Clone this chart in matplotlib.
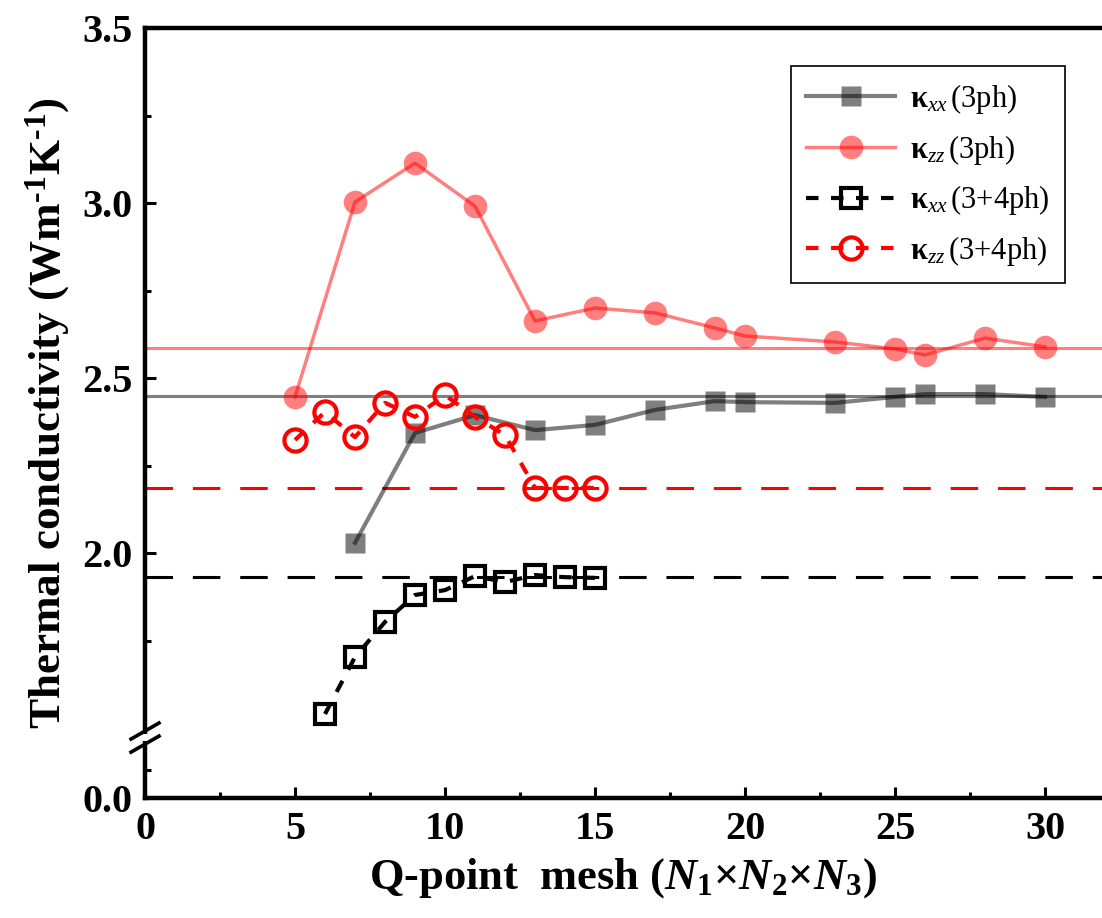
import matplotlib
matplotlib.use('Agg')
import matplotlib.pyplot as plt
import numpy as np

plt.rcParams['font.family'] = ['Liberation Serif', 'DejaVu Serif']
plt.rcParams['mathtext.fontset'] = 'custom'
plt.rcParams['mathtext.rm'] = 'Liberation Serif'
plt.rcParams['mathtext.it'] = 'Liberation Serif:italic'
plt.rcParams['mathtext.bf'] = 'Liberation Serif:bold'
plt.rcParams['mathtext.bfit'] = 'Liberation Serif:bold:italic'

# kappa_zz, 3ph
x_zz3 = [5, 7, 9, 11, 13, 15, 17, 19, 20, 23, 25, 26, 28, 30]
k_zz3 = [2.446, 3.003, 3.114, 2.991, 2.663, 2.70, 2.686, 2.643, 2.62, 2.603, 2.583, 2.566, 2.614, 2.589]
# kappa_xx, 3ph
x_xx3 = [7, 9, 11, 13, 15, 17, 19, 20, 23, 25, 26, 28, 30]
k_xx3 = [2.029, 2.343, 2.394, 2.351, 2.366, 2.409, 2.434, 2.431, 2.429, 2.446, 2.454, 2.454, 2.446]
# kappa_xx, 3+4ph
x_xx34 = [6, 7, 8, 9, 10, 11, 12, 13, 14, 15]
k_xx34 = [1.54, 1.703, 1.803, 1.88, 1.894, 1.934, 1.917, 1.937, 1.931, 1.929]
# kappa_zz, 3+4ph
x_zz34 = [5, 6, 7, 8, 9, 10, 11, 12, 13, 14, 15]
k_zz34 = [2.323, 2.403, 2.331, 2.429, 2.389, 2.451, 2.389, 2.337, 2.186, 2.186, 2.186]

# converged values (horizontal guide lines)
conv_zz3 = 2.586
conv_xx3 = 2.449
conv_zz34 = 2.186
conv_xx34 = 1.931

yticks = [0.0, 2.0, 2.5, 3.0, 3.5]
yminor = [0.25, 1.75, 2.25, 2.75, 3.25]

# broken y axis: 0-0.5 squeezed, 0.5-1.47 removed
brk_in = [0.0, 0.5, 1.47, 3.6]
brk_out = [0.0, 0.16, 0.17, 2.30]


def fwd(y):
    return np.interp(y, brk_in, brk_out)


def inv(y):
    return np.interp(y, brk_out, brk_in)


fig = plt.figure(figsize=(11.02, 9.18), dpi=100)
ax = fig.add_axes([0.1316, 0.1307, 0.8684, 0.8388])
ax.set_yscale('function', functions=(fwd, inv))

ax.axhline(conv_zz3, color='red', alpha=0.5, lw=2.2)
ax.axhline(conv_xx3, color='black', alpha=0.5, lw=2.2)
ax.axhline(conv_zz34, color='red', lw=2.2, linestyle=(0, (9, 6.5)))
ax.axhline(conv_xx34, color='black', lw=2.2, linestyle=(0, (9, 6.5)))

ax.plot(x_xx3, k_xx3, color='black', alpha=0.5, lw=3, marker='s', ms=15,
        mec='none', label=r'$\mathbf{\kappa}_{\mathit{xx}}\,$(3ph)')
ax.plot(x_zz3, k_zz3, color='red', alpha=0.5, lw=2.5, marker='o', ms=17,
        mec='none', label=r'$\mathbf{\kappa}_{\mathit{zz}}\,$(3ph)')
ax.plot(x_xx34, k_xx34, color='black', lw=3, linestyle=(0, (3, 3)), marker='s',
        ms=14, mfc='none', mew=3, label=r'$\mathbf{\kappa}_{\mathit{xx}}\,$(3+4ph)')
ax.plot(x_zz34, k_zz34, color='red', lw=3, linestyle=(0, (3, 3)), marker='o',
        ms=16, mfc='none', mew=3, label=r'$\mathbf{\kappa}_{\mathit{zz}}\,$(3+4ph)')

ax.set_xlim(0, 31.9)
ax.set_ylim(0, 3.5)
ax.set_xticks(np.arange(0, 31, 5))
ax.set_xticks(np.arange(2.5, 31, 5), minor=True)
ax.set_yticks(yticks)
ax.set_yticklabels(['%.1f' % v for v in yticks])
ax.set_yticks(yminor, minor=True)

ax.tick_params(which='both', direction='in', width=2.2, labelsize=29, pad=9)
ax.tick_params(which='major', length=8)
ax.tick_params(which='minor', length=4.5)
ax.tick_params(top=False, right=False)
for lab in ax.get_xticklabels() + ax.get_yticklabels():
    lab.set_fontweight('bold')

for s in ['left', 'bottom', 'top']:
    ax.spines[s].set_linewidth(3.2)
ax.spines['right'].set_visible(False)

ax.set_ylabel(r'Thermal conductivity (Wm$^{\mathbf{‐1}}$K$^{\mathbf{‐1}}$)',
              fontsize=32.5, fontweight='bold', labelpad=7)
ax.set_xlabel(r'Q-point  mesh ($\mathbfit{N}_\mathbf{1}$×$\mathbfit{N}_\mathbf{2}$×$\mathbfit{N}_\mathbf{3}$)',
              fontsize=32, fontweight='bold', labelpad=6)

# break marks on the left spine
ax.plot([0, 0], [0.074, 0.083], color='white', lw=4, transform=ax.transAxes,
        clip_on=False, zorder=5, solid_capstyle='butt')
for yc in [0.087, 0.070]:
    ax.plot([-0.0146, 0.0146], [yc - 0.0104, yc + 0.0104], color='black', lw=2.6,
            transform=ax.transAxes, clip_on=False, zorder=6)

leg = ax.legend(loc='upper right', bbox_to_anchor=(0.968, 0.958), fontsize=22,
                numpoints=1, handlelength=2.9, fancybox=False, framealpha=1,
                edgecolor='black', borderpad=0.5, labelspacing=0.55, handletextpad=0.5,
                borderaxespad=0.2)
leg.get_frame().set_linewidth(1.2)

fig.savefig('out.png', dpi=100)
